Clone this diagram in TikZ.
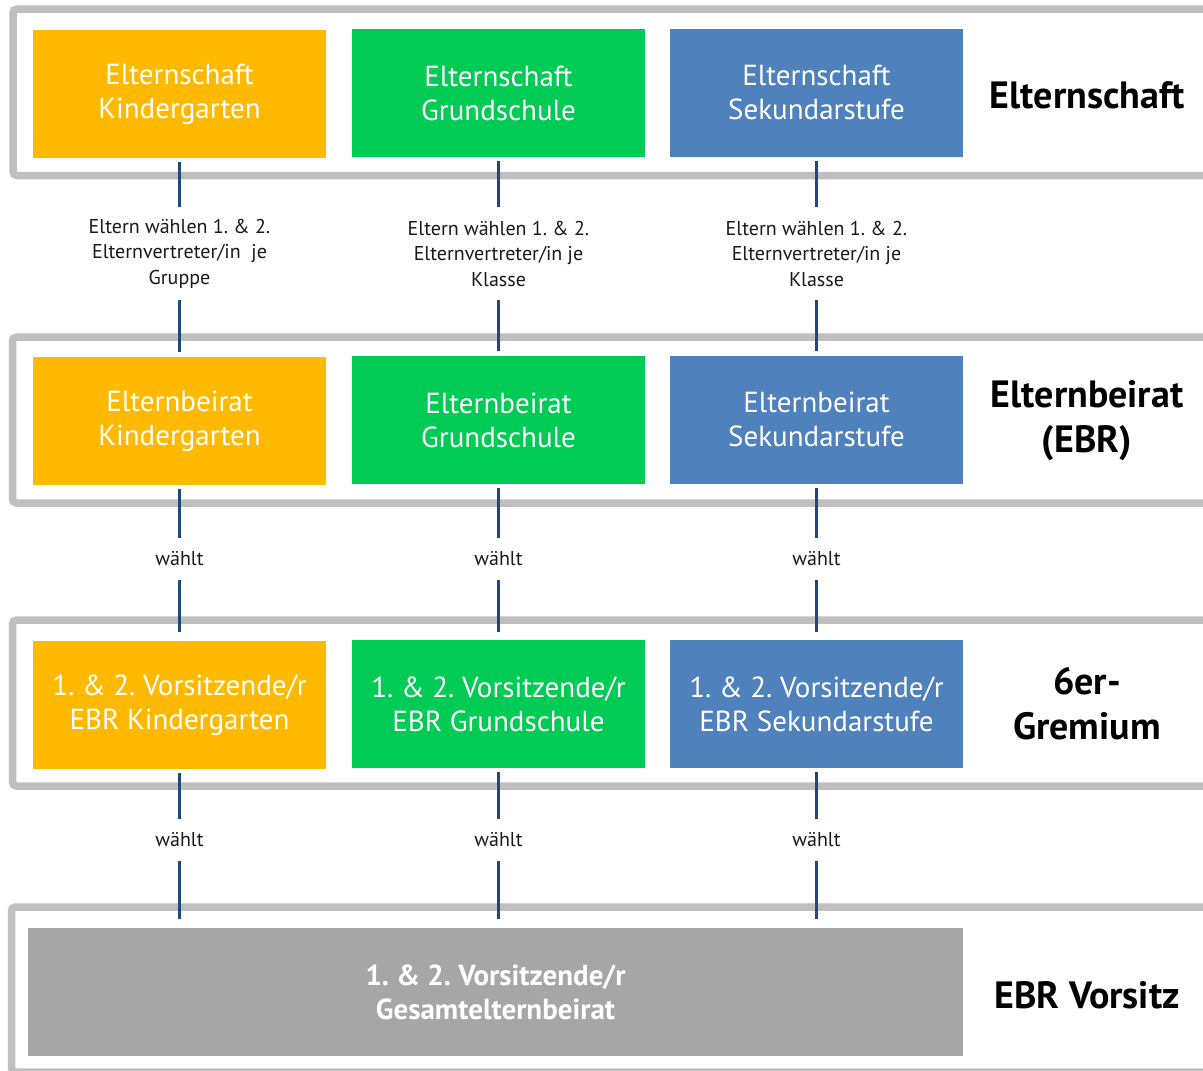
\documentclass[tikz,border=0pt]{standalone}
\usepackage{fontspec}
\setmainfont{PT Sans}
\frenchspacing
\definecolor{kgorange}{HTML}{FFB900}
\definecolor{gsgreen}{HTML}{00CC55}
\definecolor{ssblue}{HTML}{4F81BD}
\definecolor{vgray}{HTML}{A6A6A6}
\definecolor{framegray}{HTML}{BFBFBF}
\definecolor{connblue}{HTML}{1F497D}
\tikzset{
  unitbox/.style={minimum width=293pt, minimum height=128pt, inner sep=0pt, align=center, text=white, font=\fontsize{29}{34}\selectfont},
  levellabel/.style={align=center, inner sep=0pt, text=black, font=\bfseries\fontsize{38}{45}\selectfont},
  conlabel/.style={align=center, inner sep=0pt, minimum width=10pt, text=black!90, font=\fontsize{20}{25.5}\selectfont},
  frameline/.style={draw=framegray, line width=7.5pt, rounded corners=4pt},
  conn/.style={draw=connblue, line width=3.6pt, shorten <=4pt}
}
\begin{document}
\begin{tikzpicture}[x=1pt,y=-1pt]
\clip (0,0) rectangle (1203,1071);
\fill[white] (0,0) rectangle (1203,1071);
% frames
\draw[frameline] (1230,9) -- (13,9) -- (13,175.5) -- (1230,175.5);
\draw[frameline] (1230,337) -- (12.5,337) -- (12.5,503) -- (1230,503);
\draw[frameline] (1230,620) -- (12.5,620) -- (12.5,786) -- (1230,786);
\draw[frameline] (1230,907) -- (11.5,907) -- (11.5,1072) -- (1230,1072);
% row 1
\node[unitbox, fill=kgorange] (ek) at (179.5,94) {Elternschaft\\Kindergarten};
\node[unitbox, fill=gsgreen] (eg) at (498.5,93) {Elternschaft\\Grundschule};
\node[unitbox, fill=ssblue] (es) at (816.5,92.5) {Elternschaft\\Sekundarstufe};
\node[levellabel] (l1) at (1087,95) {Elternschaft};
% row 2
\node[unitbox, fill=kgorange] (bk) at (179.5,421) {Elternbeirat\\Kindergarten};
\node[unitbox, fill=gsgreen] (bg) at (498.5,420) {Elternbeirat\\Grundschule};
\node[unitbox, fill=ssblue] (bs) at (816.5,419.5) {Elternbeirat\\Sekundarstufe};
\node[levellabel] (l2) at (1087,421) {Elternbeirat\\(EBR)};
% row 3
\node[unitbox, fill=kgorange] (vk) at (179.5,705) {1. \& 2. Vorsitzende/r\\EBR Kindergarten};
\node[unitbox, fill=gsgreen] (vg) at (498.5,704) {1. \& 2. Vorsitzende/r\\EBR Grundschule};
\node[unitbox, fill=ssblue] (vs) at (816.5,704) {1. \& 2. Vorsitzende/r\\EBR Sekundarstufe};
\node[levellabel] (l3) at (1087,704) {6er-\\Gremium};
% row 4
\node[unitbox, fill=vgray, minimum width=935pt, font=\bfseries\fontsize{29}{34}\selectfont] (gv) at (495.5,992) {1. \& 2. Vorsitzende/r\\Gesamtelternbeirat};
\node[levellabel] (l4) at (1087,995) {EBR Vorsitz};
% connector labels
\node[conlabel, minimum height=93pt] (ck) at (179.5,253.5) {Eltern wählen 1. \& 2.\\Elternvertreter/in\ \ je\\Gruppe};
\node[conlabel, minimum height=93pt] (cg) at (498.5,253.5) {Eltern wählen 1. \& 2.\\Elternvertreter/in je\\Klasse};
\node[conlabel, minimum height=93pt] (cs) at (816.5,253.5) {Eltern wählen 1. \& 2.\\Elternvertreter/in je\\Klasse};
\node[conlabel, minimum height=42pt] (wk1) at (179.5,559) {wählt};
\node[conlabel, minimum height=42pt] (wg1) at (498.5,559) {wählt};
\node[conlabel, minimum height=42pt] (ws1) at (816.5,559) {wählt};
\node[conlabel, minimum height=42pt] (wk2) at (179.5,840) {wählt};
\node[conlabel, minimum height=42pt] (wg2) at (498.5,840) {wählt};
\node[conlabel, minimum height=42pt] (ws2) at (816.5,840) {wählt};
% connectors
\draw[conn] (ek.south) -- (ck.north);
\draw[conn, shorten <=0pt, shorten >=5pt] (ck.south) -- (bk.north);
\draw[conn] (eg.south) -- (cg.north);
\draw[conn, shorten <=0pt, shorten >=5pt] (cg.south) -- (bg.north);
\draw[conn] (es.south) -- (cs.north);
\draw[conn, shorten <=0pt, shorten >=4pt] (cs.south) -- (bs.north);
\draw[conn] (bk.south) -- (wk1.north);
\draw[conn, shorten <=0pt, shorten >=9pt] (wk1.south) -- (vk.north);
\draw[conn] (bg.south) -- (wg1.north);
\draw[conn, shorten <=0pt, shorten >=8pt] (wg1.south) -- (vg.north);
\draw[conn] (bs.south) -- (ws1.north);
\draw[conn, shorten <=0pt, shorten >=8pt] (ws1.south) -- (vs.north);
\draw[conn] (vk.south) -- (wk2.north);
\draw[conn, shorten <=0pt, shorten >=9pt] (wk2.south) -- (gv.north -| wk2.south);
\draw[conn] (vg.south) -- (wg2.north);
\draw[conn, shorten <=0pt, shorten >=9pt] (wg2.south) -- (gv.north -| wg2.south);
\draw[conn] (vs.south) -- (ws2.north);
\draw[conn, shorten <=0pt, shorten >=9pt] (ws2.south) -- (gv.north -| ws2.south);
\end{tikzpicture}
\end{document}
